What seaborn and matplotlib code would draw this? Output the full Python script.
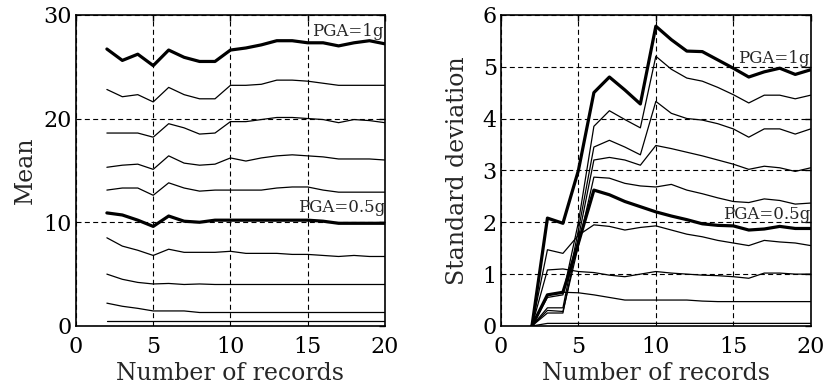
import numpy as np
import pandas as pd
import matplotlib
matplotlib.use("Agg")
import matplotlib.pyplot as plt
import seaborn as sns

# ------------------------ #
# Data
# ------------------------ #
n_records = list(range(2, 21))

# mean curves, top to bottom (thick ones are PGA=1g and PGA=0.5g)
mean_1g = [26.7, 25.6, 26.2, 25.1, 26.6, 25.9, 25.5, 25.5, 26.6, 26.8, 27.1, 27.5, 27.5, 27.3, 27.3, 27.0, 27.3, 27.5, 27.2]
mean_09 = [22.8, 22.1, 22.3, 21.6, 23.0, 22.3, 21.9, 21.9, 23.2, 23.2, 23.3, 23.7, 23.7, 23.6, 23.4, 23.2, 23.2, 23.2, 23.2]
mean_08 = [18.6, 18.6, 18.6, 18.2, 19.5, 19.1, 18.5, 18.6, 19.7, 19.7, 19.9, 20.1, 20.1, 20.0, 19.9, 19.6, 19.9, 19.8, 19.6]
mean_07 = [15.3, 15.5, 15.6, 15.1, 16.4, 15.7, 15.5, 15.6, 16.2, 15.9, 16.2, 16.4, 16.5, 16.4, 16.3, 16.1, 16.1, 16.1, 16.0]
mean_06 = [13.1, 13.3, 13.3, 12.6, 13.8, 13.3, 13.0, 13.1, 13.1, 13.1, 13.1, 13.3, 13.4, 13.4, 13.1, 12.9, 12.9, 12.9, 12.9]
mean_05 = [10.9, 10.7, 10.2, 9.6, 10.6, 10.1, 10.0, 10.2, 10.2, 10.2, 10.2, 10.2, 10.2, 10.2, 10.1, 9.9, 9.9, 9.9, 9.9]
mean_04 = [8.5, 7.7, 7.3, 6.8, 7.4, 7.1, 7.1, 7.1, 7.2, 7.0, 7.0, 7.0, 6.9, 6.9, 6.8, 6.7, 6.8, 6.7, 6.7]
mean_03 = [5.0, 4.5, 4.2, 4.05, 4.1, 4.0, 4.05, 4.0, 4.0, 4.0, 4.0, 4.0, 4.0, 4.0, 4.0, 4.0, 4.0, 4.0, 4.0]
mean_02 = [2.2, 1.9, 1.7, 1.45, 1.45, 1.45, 1.3, 1.3, 1.3, 1.3, 1.3, 1.3, 1.3, 1.3, 1.3, 1.3, 1.3, 1.3, 1.3]
mean_01 = [0.45, 0.45, 0.45, 0.45, 0.45, 0.45, 0.45, 0.45, 0.45, 0.45, 0.45, 0.45, 0.45, 0.45, 0.45, 0.45, 0.45, 0.45, 0.45]

# standard deviation curves
std_1g = [0, 2.08, 1.98, 3.0, 4.5, 4.8, 4.55, 4.28, 5.78, 5.52, 5.3, 5.29, 5.13, 4.97, 4.8, 4.9, 4.97, 4.85, 4.94]
std_09 = [0, 0.55, 0.6, 2.0, 3.85, 4.15, 3.98, 3.82, 5.2, 4.95, 4.78, 4.72, 4.6, 4.46, 4.3, 4.45, 4.45, 4.38, 4.45]
std_08 = [0, 0.35, 0.35, 1.85, 3.45, 3.58, 3.45, 3.3, 4.33, 4.1, 4.0, 3.97, 3.9, 3.8, 3.64, 3.8, 3.8, 3.7, 3.8]
std_07 = [0, 0.25, 0.25, 1.7, 3.2, 3.25, 3.2, 3.1, 3.48, 3.42, 3.35, 3.28, 3.2, 3.12, 3.02, 3.08, 3.05, 2.98, 3.05]
std_06 = [0, 0.3, 0.28, 1.55, 2.87, 2.85, 2.75, 2.7, 2.68, 2.73, 2.62, 2.55, 2.47, 2.4, 2.38, 2.45, 2.42, 2.35, 2.37]
std_05 = [0, 0.6, 0.65, 1.6, 2.62, 2.53, 2.4, 2.3, 2.2, 2.12, 2.05, 1.97, 1.94, 1.93, 1.85, 1.87, 1.92, 1.88, 1.88]
std_04 = [0, 1.47, 1.4, 1.75, 1.95, 1.92, 1.85, 1.9, 1.93, 1.85, 1.77, 1.72, 1.65, 1.6, 1.55, 1.65, 1.62, 1.6, 1.55]
std_03 = [0, 1.08, 1.1, 1.05, 1.03, 0.98, 0.95, 1.0, 1.05, 1.02, 1.0, 0.98, 0.97, 0.95, 0.92, 1.02, 1.02, 1.0, 1.0]
std_02 = [0, 0.6, 0.65, 0.64, 0.6, 0.55, 0.5, 0.5, 0.5, 0.5, 0.5, 0.48, 0.47, 0.47, 0.47, 0.47, 0.47, 0.47, 0.47]
std_01 = [0, 0.05, 0.05, 0.05, 0.05, 0.05, 0.05, 0.05, 0.05, 0.05, 0.05, 0.05, 0.05, 0.05, 0.05, 0.05, 0.05, 0.05, 0.05]

mean_curves = [mean_1g, mean_09, mean_08, mean_07, mean_06, mean_05, mean_04, mean_03, mean_02, mean_01]
std_curves = [std_1g, std_09, std_08, std_07, std_06, std_05, std_04, std_03, std_02, std_01]
thick = [True, False, False, False, False, True, False, False, False, False]

# ------------------------ #
# Style
# ------------------------ #
sns.set_theme(style="white")
plt.rcParams["font.family"] = ["DejaVu Serif"]

fig = plt.figure(figsize=(8.26, 3.89), dpi=100)
ax1 = fig.add_axes([0.092, 0.162, 0.374, 0.8])
ax2 = fig.add_axes([0.6065, 0.162, 0.375, 0.8])


def draw_panel(ax, curves, ylim, yticks, ylabel, labelpad):
    for vals, bold in zip(curves, thick):
        sns.lineplot(x=n_records, y=vals, ax=ax, color="black",
                     linewidth=2.3 if bold else 0.9, legend=False)
    ax.set_xlim(0, 20)
    ax.set_ylim(*ylim)
    ax.set_xticks([0, 5, 10, 15, 20])
    ax.set_yticks(yticks)
    ax.grid(True, color="black", linestyle=(0, (4.5, 3)), linewidth=0.8)
    for s in ax.spines.values():
        s.set_color("black")
        s.set_linewidth(1.2)
    ax.tick_params(direction="in", length=4, width=1, colors="black",
                   top=True, right=True, labelsize=16)
    ax.tick_params(axis="x", pad=7)
    ax.tick_params(axis="y", pad=3)
    ax.set_xlabel("Number of records", fontsize=17, labelpad=3)
    ax.set_ylabel(ylabel, fontsize=17, labelpad=labelpad)


draw_panel(ax1, mean_curves, (0, 30), [0, 10, 20, 30], "Mean", 5)
draw_panel(ax2, std_curves, (0, 6), [0, 1, 2, 3, 4, 5, 6], "Standard deviation", 10)

ax1.text(19.9, 28.4, "PGA=1g", ha="right", va="center", fontsize=12)
ax1.text(20.0, 11.4, "PGA=0.5g", ha="right", va="center", fontsize=12)
ax2.text(19.9, 5.16, "PGA=1g", ha="right", va="center", fontsize=12)
ax2.text(20.0, 2.14, "PGA=0.5g", ha="right", va="center", fontsize=12)

fig.savefig("out.png", dpi=100, facecolor="white")
